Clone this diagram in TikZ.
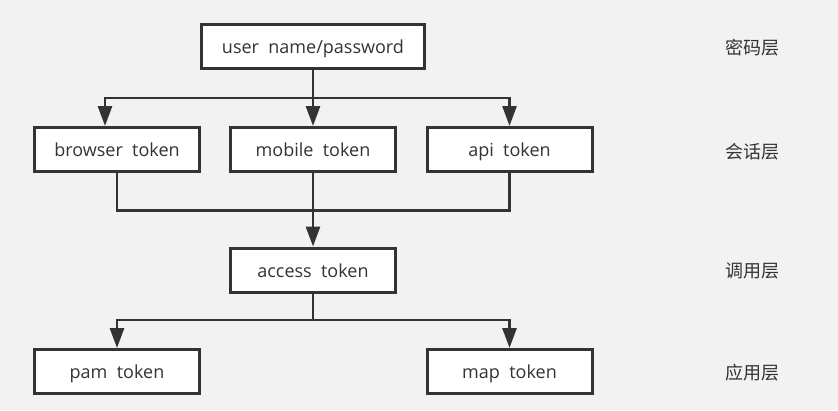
\documentclass[tikz,border=0pt]{standalone}
\usepackage{fontspec}
\setmainfont{Open Sans}
\newfontfamily\cjk{Noto Sans CJK SC}
\usetikzlibrary{arrows.meta}
\definecolor{bgcol}{HTML}{F2F2F2}
\definecolor{linecol}{HTML}{333333}
\tikzset{
	tokenbox/.style={draw=linecol, fill=white, line width=3pt, minimum width=165pt, minimum height=44pt, inner sep=0pt, text height=1.45em, text depth=0pt, font=\fontsize{18}{20}\selectfont, text=linecol},
	userbox/.style={tokenbox, minimum width=223pt},
	layer/.style={font=\cjk\fontsize{18}{20}\selectfont, text=linecol},
	link/.style={draw=linecol, line width=2.8pt},
	arr/.style={link, -{Triangle[length=20pt,width=14pt]}}
}
\begin{document}
\begin{tikzpicture}[x=1pt, y=-1pt]
			%%%%% START %%%%%
			
			\fill[bgcol] (0, 0) rectangle (838, 410);
			\useasboundingbox (0, 0) rectangle (838, 410);
			
			\node[userbox] (user) at (313, 46.5) {user\ \ name/password};
			
			\node[tokenbox] (browser) at (117, 149.5) {browser\ \ token};
			\node[tokenbox] (mobile) at (313, 149.5) {mobile\ \ token};
			\node[tokenbox] (api) at (509.5, 149.5) {api\ \ token};
			
			\node[tokenbox] (access) at (313, 270) {access\ \ token};
			
			\node[tokenbox] (pam) at (117, 371.5) {pam\ \ token};
			\node[tokenbox] (map) at (509.5, 371.5) {map\ \ token};
			
			\node[layer] (pwd) at (752, 48) {密码层};
			\node[layer] (session) at (752, 152) {会话层};
			\node[layer] (call) at (752, 271) {调用层};
			\node[layer] (app) at (752, 373) {应用层};
			
			\coordinate (split) at (313, 98);
			\coordinate (merge) at (313, 210.5);
			\coordinate (fork) at (313, 320);
			
			\draw[link] (user.south) -- (split);
			\draw[arr] (split) -| ([xshift=-12pt]browser.north);
			\draw[arr] (split) -- (mobile.north);
			\draw[arr] (split) -| (api.north);
			
			\draw[link] (browser.south) |- (merge);
			\draw[link] (api.south) |- (merge);
			\draw[arr] (mobile.south) -- (access.north);
			
			\draw[link] (access.south) -- (fork);
			\draw[arr] (fork) -| (pam.north);
			\draw[arr] (fork) -| (map.north);
			
			%%%%% END %%%%%
\end{tikzpicture}
\end{document}
